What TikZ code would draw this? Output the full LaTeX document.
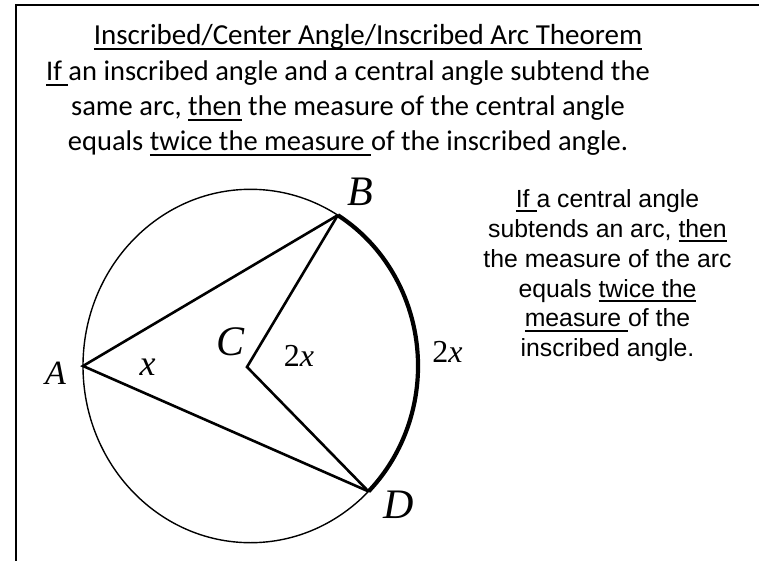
\documentclass[tikz,border=0pt]{standalone}
\usepackage{fontspec}
\setmainfont{Carlito}
\newfontfamily\arialf{Liberation Sans}
\newfontfamily\timesf{Liberation Serif}
\newsavebox\ulbox
\newcommand\myul[1]{\sbox\ulbox{#1}\rlap{\rule[-5pt]{\wd\ulbox}{1.9pt}}\usebox\ulbox}
\tikzset{
  frame/.style={line width=2.5pt},
  circ/.style={line width=1.4pt},
  chord/.style={line width=2.6pt, line join=miter},
  thickarc/.style={line width=4.2pt},
  lab/.style={inner sep=0pt, font=\timesf\itshape\fontsize{42}{42}\selectfont},
  smalllab/.style={inner sep=0pt, font=\timesf\fontsize{32}{32}\selectfont},
  topfont/.style={inner sep=0pt, font=\fontsize{28.5}{35}\selectfont},
  rightfont/.style={inner sep=0pt, font=\arialf\fontsize{24.8}{29.9}\selectfont}
}
\begin{document}
\begin{tikzpicture}[x=1pt,y=-1pt]
\useasboundingbox (0,0) rectangle (759,561);
\draw[frame] (16,561) -- (16,5) -- (759,5);
% geometry
\coordinate (O) at (250.5,366);
\coordinate (A) at (83,366);
\coordinate (B) at (337.8,215.2);
\coordinate (C) at (247,367);
\coordinate (D) at (368.5,491.4);
\draw[circ] (O) ellipse [x radius=167.5, y radius=176.7];
\draw[thickarc] (B) arc[start angle=-58.6, end angle=45.2, x radius=167.5, y radius=176.7];
\draw[chord] (B) -- (A) -- (D);
\draw[chord] (B) -- (C) -- (D);
% labels
\node[lab, font=\timesf\itshape\fontsize{34}{34}\selectfont] (lA) at (55.5,373) {A};
\node[lab] (lB) at (360,192) {B};
\node[lab] (lC) at (231,342) {C};
\node[lab] (lD) at (399,505) {D};
\node[smalllab, font=\timesf\itshape\fontsize{36}{36}\selectfont] (lx) at (147.5,367) {x};
\node[smalllab] (l2x) at (299,356) {2\textit{x}};
\node[smalllab] (l2xarc) at (447.5,352) {2\textit{x}};
% texts
\node[topfont, font=\fontsize{29}{35}\selectfont, anchor=base] (title) at (368,45) {\myul{Inscribed/Center Angle/Inscribed Arc Theorem}};
\node[topfont, align=center, anchor=base] (para) at (348,151) {\myul{If }an inscribed angle and a central angle subtend the\\ same arc, \myul{then} the measure of the central angle\\ equals \myul{twice the measure }of the inscribed angle.};
\node[rightfont, align=center, anchor=base] (right) at (607.5,356.8) {\myul{If }a central angle\\ subtends an arc, \myul{then}\\ the measure of the arc\\ equals \myul{twice the}\\ \myul{measure }of the\\ inscribed angle.};
\end{tikzpicture}
\end{document}
